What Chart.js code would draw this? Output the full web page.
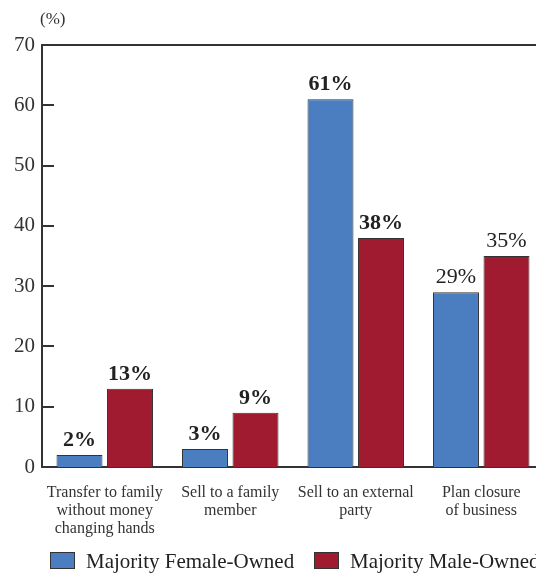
<!DOCTYPE html>
<html>
<head>
<meta charset="utf-8">
<script src="https://cdn.jsdelivr.net/npm/chart.js@4/dist/chart.umd.min.js"></script>
<style>
html,body{margin:0;padding:0;background:#fff;overflow:hidden;}
#wrap{position:absolute;left:0;top:0;width:560px;height:574px;}
</style>
</head>
<body>
<div id="wrap"><canvas id="c" width="560" height="574"></canvas></div>
<script>
const categories = [
  ["Transfer to family","without money","changing hands"],
  ["Sell to a family","member"],
  ["Sell to an external","party"],
  ["Plan closure","of business"]
];
const femaleValues = [2, 3, 61, 29];
const maleValues = [13, 9, 38, 35];
const seriesNames = ["Majority Female-Owned", "Majority Male-Owned"];
const yTicks = [0, 10, 20, 30, 40, 50, 60, 70];
const boldCategories = [true, true, true, false];

const BLUE = '#4A7EC1';
const RED = '#A11B30';
const INK = '#333333';
const SERIF = '"Liberation Serif", "Times New Roman", serif';

const overlay = {
  id: 'overlay',
  afterDatasetsDraw(chart) {
    const ctx = chart.ctx;
    const y = chart.scales.y;
    const a = chart.chartArea;
    ctx.save();
    // inward ticks
    ctx.strokeStyle = INK;
    ctx.lineWidth = 2;
    yTicks.forEach(v => {
      const py = Math.round(y.getPixelForValue(v));
      ctx.beginPath();
      ctx.moveTo(a.left, py);
      ctx.lineTo(a.left + 12, py);
      ctx.stroke();
    });
    // top line at max
    const pt = Math.round(y.getPixelForValue(yTicks[yTicks.length - 1]));
    ctx.beginPath();
    ctx.moveTo(a.left, pt);
    ctx.lineTo(a.right, pt);
    ctx.stroke();
    // unit label
    ctx.fillStyle = INK;
    ctx.font = '17px ' + SERIF;
    ctx.textAlign = 'left';
    ctx.textBaseline = 'middle';
    ctx.fillText('(%)', 40, 20);
    // value labels
    ctx.textAlign = 'center';
    ctx.textBaseline = 'alphabetic';
    chart.data.datasets.forEach((ds, di) => {
      const meta = chart.getDatasetMeta(di);
      meta.data.forEach((bar, i) => {
        ctx.font = (boldCategories[i] ? 'bold ' : '') + '22px ' + SERIF;
        ctx.fillStyle = '#222';
        ctx.fillText(ds.data[i] + '%', bar.x, bar.y - 9);
      });
    });
    // legend
    ctx.font = '21px ' + SERIF;
    ctx.textBaseline = 'middle';
    ctx.textAlign = 'left';
    const legendX = [50, 314];
    chart.data.datasets.forEach((ds, di) => {
      const x = legendX[di];
      ctx.fillStyle = ds.backgroundColor;
      ctx.fillRect(x, 552, 25, 17);
      ctx.strokeStyle = INK;
      ctx.lineWidth = 1;
      ctx.strokeRect(x + 0.5, 552.5, 24, 16);
      ctx.fillStyle = '#222';
      ctx.fillText(ds.label, x + 36, 562);
    });
    ctx.restore();
  }
};

new Chart(document.getElementById('c'), {
  type: 'bar',
  data: {
    labels: categories,
    datasets: [
      { label: seriesNames[0], data: femaleValues, backgroundColor: BLUE, borderColor: INK, borderWidth: 1 },
      { label: seriesNames[1], data: maleValues, backgroundColor: RED, borderColor: INK, borderWidth: 1 }
    ]
  },
  options: {
    responsive: false,
    animation: false,
    devicePixelRatio: 1,
    layout: { padding: { top: 45, right: 16, left: 0, bottom: 0 } },
    categoryPercentage: 0.805,
    barPercentage: 0.91,
    plugins: { legend: { display: false }, tooltip: { enabled: false } },
    scales: {
      x: {
        grid: { display: false, drawTicks: false },
        border: { display: true, color: INK, width: 2 },
        ticks: { color: INK, font: { family: SERIF, size: 16, lineHeight: 1.125 }, padding: 17, maxRotation: 0, autoSkip: false },
        afterFit(s) { s.height = 107; }
      },
      y: {
        min: 0, max: 70,
        grid: { display: false, drawTicks: false },
        border: { display: true, color: INK, width: 2 },
        ticks: { stepSize: 10, color: INK, font: { family: SERIF, size: 21 }, padding: 7 },
        afterFit(s) { s.width = 42; }
      }
    }
  },
  plugins: [overlay]
});
</script>
</body>
</html>
